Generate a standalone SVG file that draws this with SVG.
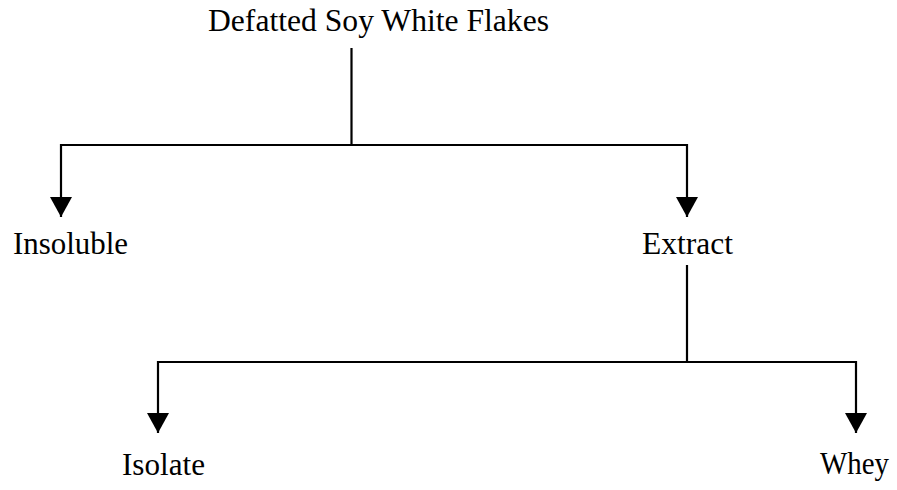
<svg xmlns="http://www.w3.org/2000/svg" width="897" height="490" viewBox="0 0 897 490">
  <style>
    .label { font-family: "Liberation Serif", "Times New Roman", serif; font-size: 31px; fill: #000; }
    .conn { fill: none; stroke: #000; stroke-width: 2.2; stroke-linejoin: miter; }
  </style>
  <defs>
    <marker id="arrow" viewBox="0 0 20 22" refX="20" refY="11" markerWidth="20" markerHeight="22" markerUnits="userSpaceOnUse" orient="auto">
      <path d="M0 0 L20 11 L0 22 Z" fill="#000"/>
    </marker>
  </defs>

  <rect width="897" height="490" fill="#fff"/>

  <!-- connectors -->
  <g id="connectors">
    <path class="conn" d="M351.5 48 V145 H61 V217" marker-end="url(#arrow)"/>
    <path class="conn" d="M351.5 145 H687 V217" marker-end="url(#arrow)"/>
    <path class="conn" d="M687 265 V362 H158 V433" marker-end="url(#arrow)"/>
    <path class="conn" d="M687 362 H856 V433" marker-end="url(#arrow)"/>
  </g>

  <!-- nodes -->
  <g id="node-flakes">
    <text class="label" x="208" y="31" textLength="341" lengthAdjust="spacingAndGlyphs">Defatted Soy White Flakes</text>
  </g>
  <g id="node-insoluble">
    <text class="label" x="13" y="254" textLength="115" lengthAdjust="spacingAndGlyphs">Insoluble</text>
  </g>
  <g id="node-extract">
    <text class="label" x="642" y="254" textLength="91" lengthAdjust="spacingAndGlyphs">Extract</text>
  </g>
  <g id="node-isolate">
    <text class="label" x="122" y="475" textLength="83" lengthAdjust="spacingAndGlyphs">Isolate</text>
  </g>
  <g id="node-whey">
    <text class="label" x="820" y="474" textLength="69" lengthAdjust="spacingAndGlyphs">Whey</text>
  </g>
</svg>
